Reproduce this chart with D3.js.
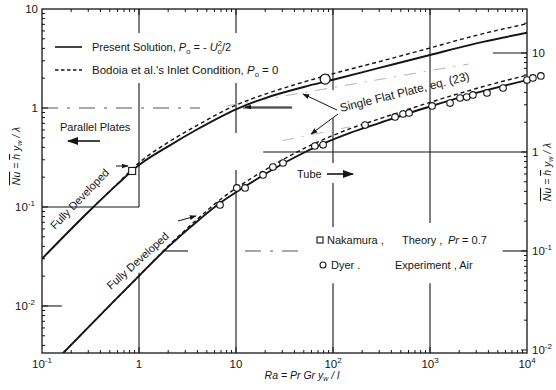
<!DOCTYPE html>
<html><head><meta charset="utf-8">
<script src="https://cdn.jsdelivr.net/npm/d3@7"></script>
<style>
body{margin:0;background:#fff;}
svg text{font-family:"Liberation Sans","DejaVu Sans",sans-serif;fill:#161616;}
</style></head><body>
<svg id="c" width="556" height="390"></svg>
<script>
// Parallel plates (left axis): present solution and Bodoia et al.'s inlet condition
const platesRa      = [0.1, 0.3, 0.6, 1, 2, 4, 10, 20, 50, 100, 300, 1000, 3000, 10000];
const platesPresent = [0.030, 0.089, 0.17, 0.265, 0.41, 0.61, 0.97, 1.26, 1.63, 1.93, 2.54, 3.43, 4.5, 5.75];
const platesBodoia  = [0.030, 0.089, 0.172, 0.28, 0.45, 0.67, 1.07, 1.38, 1.83, 2.22, 2.94, 4.04, 5.42, 7.09];

// Tube (right axis)
const tubeRa      = [0.15, 0.5, 1, 2, 4, 7, 12, 20, 40, 80, 150, 300, 1000, 3000, 10000];
const tubePresent = [0.00846, 0.0282, 0.056, 0.11, 0.2, 0.31, 0.44, 0.6, 0.88, 1.22, 1.56, 1.96, 2.88, 3.95, 5.33];
const tubeBodoia  = [0.00846, 0.0282, 0.056, 0.112, 0.21, 0.335, 0.484, 0.66, 0.968, 1.34, 1.72, 2.16, 3.17, 4.38, 5.97];

// Single flat plate, eq. (23)
const platesFlatRa = [8, 2500];
const platesFlat   = [1.05, 2.78];
const tubeFlatRa   = [30, 150];
const tubeFlat     = [1.3, 1.8];

// Nakamura, theory, Pr = 0.7 (parallel plates)
const nakamuraRa = [0.85];
const nakamuraNu = [0.231];

// Dyer, experiment, air
const dyerPlatesRa = [83];
const dyerPlatesNu = [1.96];
const dyerTubeRa = [6.84, 10.2, 12.4, 19, 24, 30.5, 65, 79, 214, 436, 527, 608, 1050, 1610, 2040, 2390, 2770, 3870, 5660, 10000, 11500, 13900];
const dyerTubeNu = [0.292, 0.433, 0.433, 0.586, 0.705, 0.774, 1.15, 1.18, 1.87, 2.26, 2.42, 2.48, 2.92, 3.12, 3.51, 3.59, 3.77, 3.95, 4.43, 5.33, 5.6, 5.86];

// Axis ticks
const xTicks = [0.1, 1, 10, 100, 1000, 10000];
const xTickLabels = [["10","-1"], ["1",""], ["10",""], ["10","2"], ["10","3"], ["10","4"]];
const yLeftTicks = [10, 1, 0.1, 0.01];
const yLeftLabels = [["10",""], ["1",""], ["10","-1"], ["10","-2"]];
const yRightTicks = [10, 1, 0.1, 0.01];
const yRightLabels = [["10",""], ["1",""], ["10","-1"], ["10","-2"]];

const L = 42, R = 527, T = 9, B = 353;
const svg = d3.select("#c");
const ink = "#151515";

const x = d3.scaleLog().domain([0.1, 1e4]).range([L, R]);
const yL = d3.scaleLog().domain([Math.pow(10, -2.475), 10]).range([B, T]);
const shift = Math.pow(10, 44 / 99);
const yR = d3.scaleLog().domain([Math.pow(10, -2.475) * shift, 10 * shift]).range([B, T]);

const zip = (a, b) => a.map((v, i) => ({ra: v, nu: b[i]}));

// clip for curves
svg.append("defs").append("clipPath").attr("id", "plot")
  .append("rect").attr("x", L).attr("y", T).attr("width", R - L).attr("height", B - T);

const defs = svg.select("defs");
defs.append("marker").attr("id", "ah").attr("viewBox", "0 0 10 10")
  .attr("refX", 9).attr("refY", 5).attr("markerWidth", 7).attr("markerHeight", 7)
  .attr("orient", "auto-start-reverse")
  .append("path").attr("d", "M0,1.5 L10,5 L0,8.5 z").attr("fill", ink);

// partial grid lines (vertical spans given in left-axis units)
const vGrid = [
  {ra: 1,    spans: [[5.72, 10], [0.1, 1.79], [0.00335, 0.0216]]},
  {ra: 10,   spans: [[5.72, 10], [0.559, 1.79], [0.00335, 0.236]]},
  {ra: 100,  spans: [[1.52, 10], [0.278, 0.79], [0.0628, 0.175], [0.00335, 0.017]]},
  {ra: 1000, spans: [[0.0688, 10], [0.00335, 0.017]]}
];
const g = svg.append("g").attr("stroke", ink).attr("stroke-width", 1.1);
vGrid.forEach(v => v.spans.forEach(s => {
  g.append("line").attr("x1", x(v.ra)).attr("x2", x(v.ra))
    .attr("y1", yL(s[0])).attr("y2", yL(s[1]));
}));
// horizontal spans: [axis, value, raFrom, raTo, dashed]
const hGrid = [
  ["L", 1, 0.1, 4.25, true],
  ["L", 1, 11.8, 37.9, false],
  ["R", 1, 19, 1e4, false],
  ["L", 0.1, 0.1, 1, false],
  ["R", 0.1, 1.77, 3.2, false],
  ["R", 0.1, 12.4, 48, true],
  ["R", 0.1, 5600, 1e4, false],
  ["L", 0.01, 0.1, 0.16, false],
  ["R", 10, 4450, 1e4, false]
];
hGrid.forEach(h => {
  const yy = (h[0] === "L" ? yL : yR)(h[1]);
  g.append("line").attr("x1", x(h[2])).attr("x2", x(h[3]))
    .attr("y1", yy).attr("y2", yy)
    .attr("stroke-dasharray", h[4] ? "16,9,3,9" : null)
    .attr("stroke", h[4] ? "#555" : ink);
});

// frame
svg.append("rect").attr("x", L).attr("y", T).attr("width", R - L).attr("height", B - T)
  .attr("fill", "none").attr("stroke", ink).attr("stroke-width", 1.3);

// minor / major ticks
function minors(dom) {
  const out = [];
  const lo = Math.floor(Math.log10(dom[0])), hi = Math.ceil(Math.log10(dom[1]));
  for (let e = lo; e <= hi; e++) for (let m = 1; m < 10; m++) {
    const v = m * Math.pow(10, e);
    if (v >= dom[0] * 1.0001 && v <= dom[1] * 0.9999) out.push({v, major: m === 1});
  }
  return out;
}
const tk = svg.append("g").attr("stroke", ink).attr("stroke-width", 1);
minors(x.domain()).forEach(t => {
  const len = t.major ? 6 : 3;
  tk.append("line").attr("x1", x(t.v)).attr("x2", x(t.v)).attr("y1", B).attr("y2", B - len);
  tk.append("line").attr("x1", x(t.v)).attr("x2", x(t.v)).attr("y1", T).attr("y2", T + len);
});
minors(yL.domain()).forEach(t => {
  const len = t.major ? 6 : 3;
  tk.append("line").attr("x1", L).attr("x2", L + len).attr("y1", yL(t.v)).attr("y2", yL(t.v));
});
minors(yR.domain()).forEach(t => {
  const len = t.major ? 6 : 3;
  tk.append("line").attr("x1", R).attr("x2", R - len).attr("y1", yR(t.v)).attr("y2", yR(t.v));
});

// tick labels
function powLabel(sel, base, exp) {
  sel.append("tspan").text(base);
  if (exp) sel.append("tspan").attr("dy", -5).attr("font-size", 8).text(exp);
}
xTicks.forEach((v, i) => {
  const t = svg.append("text").attr("x", x(v)).attr("y", 368)
    .attr("text-anchor", "middle").attr("font-size", 11.5);
  powLabel(t, xTickLabels[i][0], xTickLabels[i][1]);
});
yLeftTicks.forEach((v, i) => {
  const lab = yLeftLabels[i];
  const t = svg.append("text").attr("x", lab[1] ? 35 : 38).attr("y", yL(v) + 4)
    .attr("text-anchor", "end").attr("font-size", 11.5);
  t.append("tspan").text(lab[0]);
  if (lab[1]) t.append("tspan").attr("dy", -5).attr("font-size", 8).text(lab[1]);
});
yRightTicks.forEach((v, i) => {
  const lab = yRightLabels[i];
  const t = svg.append("text").attr("x", 532).attr("y", yR(v) + 4)
    .attr("text-anchor", "start").attr("font-size", 11.5);
  powLabel(t, lab[0], lab[1]);
});

// axis titles
function nuTitle(tx, ty) {
  const t = svg.append("text").attr("transform", `translate(${tx},${ty}) rotate(-90)`)
    .attr("text-anchor", "middle").attr("font-size", 10.5).attr("font-style", "italic");
  t.append("tspan").attr("text-decoration", "overline").text("Nu");
  t.append("tspan").text(" = ");
  t.append("tspan").attr("text-decoration", "overline").text("h");
  t.append("tspan").text(" y");
  t.append("tspan").attr("dy", 2).attr("font-size", 7).text("w");
  t.append("tspan").attr("dy", -2).text(" / λ");
}
nuTitle(20, 156);
nuTitle(551, 172);

const xt = svg.append("text").attr("x", 302).attr("y", 379).attr("text-anchor", "middle")
  .attr("font-size", 10.5).attr("font-style", "italic");
xt.append("tspan").text("Ra = Pr Gr y");
xt.append("tspan").attr("dy", 2).attr("font-size", 7).text("w");
xt.append("tspan").attr("dy", -2).text(" / l");

// curves
const lineL = d3.line().x(d => x(d.ra)).y(d => yL(d.nu)).curve(d3.curveMonotoneX);
const lineR = d3.line().x(d => x(d.ra)).y(d => yR(d.nu)).curve(d3.curveMonotoneX);
const curves = svg.append("g").attr("clip-path", "url(#plot)").attr("fill", "none");

curves.append("path").attr("d", lineL(zip(platesFlatRa, platesFlat)))
  .attr("stroke", "#aaa").attr("stroke-width", 0.9).attr("stroke-dasharray", "12,8,2,8");
curves.append("path").attr("d", lineR(zip(tubeFlatRa, tubeFlat)))
  .attr("stroke", "#b0b0b0").attr("stroke-width", 0.9).attr("stroke-dasharray", "12,8,2,8");

curves.append("path").attr("d", lineL(zip(platesRa, platesBodoia)))
  .attr("stroke", ink).attr("stroke-width", 1.4).attr("stroke-dasharray", "4,3");
curves.append("path").attr("d", lineR(zip(tubeRa, tubeBodoia)))
  .attr("stroke", ink).attr("stroke-width", 1.4).attr("stroke-dasharray", "4,3");
curves.append("path").attr("d", lineL(zip(platesRa, platesPresent)))
  .attr("stroke", ink).attr("stroke-width", 1.9);
curves.append("path").attr("d", lineR(zip(tubeRa, tubePresent)))
  .attr("stroke", ink).attr("stroke-width", 1.9);

// data symbols
svg.append("g").selectAll("circle").data(zip(dyerTubeRa, dyerTubeNu)).join("circle")
  .attr("cx", d => x(d.ra)).attr("cy", d => yR(d.nu)).attr("r", 3.3)
  .attr("fill", "#fff").attr("stroke", ink).attr("stroke-width", 1.1);
svg.append("g").selectAll("circle").data(zip(dyerPlatesRa, dyerPlatesNu)).join("circle")
  .attr("cx", d => x(d.ra)).attr("cy", d => yL(d.nu)).attr("r", 5)
  .attr("fill", "#fff").attr("stroke", ink).attr("stroke-width", 1.3);
svg.append("g").selectAll("rect").data(zip(nakamuraRa, nakamuraNu)).join("rect")
  .attr("x", d => x(d.ra) - 3.5).attr("y", d => yL(d.nu) - 3.5).attr("width", 7).attr("height", 7)
  .attr("fill", "#fff").attr("stroke", ink).attr("stroke-width", 1.1);

// legend (top)
const lg = svg.append("g");
lg.append("line").attr("x1", 55).attr("x2", 82).attr("y1", 47).attr("y2", 47)
  .attr("stroke", ink).attr("stroke-width", 1.6);
lg.append("line").attr("x1", 55).attr("x2", 82).attr("y1", 70).attr("y2", 70)
  .attr("stroke", ink).attr("stroke-width", 1.3).attr("stroke-dasharray", "3.5,2.5");
const t1 = lg.append("text").attr("x", 92).attr("y", 51).attr("font-size", 11);
t1.append("tspan").text("Present Solution, ");
t1.append("tspan").attr("font-style", "italic").text("P");
t1.append("tspan").attr("dy", 3).attr("font-size", 7.5).text("o");
t1.append("tspan").attr("dy", -3).text(" = - ");
t1.append("tspan").attr("font-style", "italic").text("U");
t1.append("tspan").attr("dy", 3).attr("font-size", 7.5).text("o");
t1.append("tspan").attr("dy", -8).attr("dx", -4).attr("font-size", 7.5).text("2");
t1.append("tspan").attr("dy", 5).text("/2");
const t2 = lg.append("text").attr("x", 92).attr("y", 74).attr("font-size", 11.5);
t2.append("tspan").text("Bodoia et al.'s Inlet Condition, ");
t2.append("tspan").attr("font-style", "italic").text("P");
t2.append("tspan").attr("dy", 3).attr("font-size", 7.5).text("o");
t2.append("tspan").attr("dy", -3).text(" = 0");

// legend (symbols)
lg.append("rect").attr("x", 317).attr("y", 237).attr("width", 6).attr("height", 6)
  .attr("fill", "#fff").attr("stroke", ink).attr("stroke-width", 1.1);
lg.append("text").attr("x", 327).attr("y", 244).attr("font-size", 11).text("Nakamura ,");
lg.append("text").attr("x", 402).attr("y", 244).attr("font-size", 11).text("Theory ,");
const t3 = lg.append("text").attr("x", 448).attr("y", 244).attr("font-size", 11);
t3.append("tspan").attr("font-style", "italic").text("Pr");
t3.append("tspan").text(" = 0.7");
lg.append("circle").attr("cx", 323).attr("cy", 265).attr("r", 3)
  .attr("fill", "#fff").attr("stroke", ink).attr("stroke-width", 1.1);
lg.append("text").attr("x", 331).attr("y", 269).attr("font-size", 11).text("Dyer .");
lg.append("text").attr("x", 395).attr("y", 269).attr("font-size", 11).text("Experiment , Air");

// annotations
const an = svg.append("g");
an.append("text").attr("x", 60).attr("y", 131).attr("font-size", 11).text("Parallel Plates");
an.append("line").attr("x1", 100).attr("x2", 68).attr("y1", 141).attr("y2", 141)
  .attr("stroke", ink).attr("stroke-width", 1.6).attr("marker-end", "url(#ah)");
an.append("text").attr("x", 297).attr("y", 178).attr("font-size", 11).text("Tube");
an.append("line").attr("x1", 327).attr("x2", 353).attr("y1", 174).attr("y2", 174)
  .attr("stroke", ink).attr("stroke-width", 1.6).attr("marker-end", "url(#ah)");
an.append("text").attr("transform", "translate(341,112) rotate(-14)")
  .attr("font-size", 11.8).text("Single Flat Plate, eq. (23)");
[[337, 110, 303, 94], [338, 114, 311, 134], [292, 107, 245, 107]].forEach(a => {
  an.append("line").attr("x1", a[0]).attr("y1", a[1]).attr("x2", a[2]).attr("y2", a[3])
    .attr("stroke", ink).attr("stroke-width", 1).attr("marker-end", "url(#ah)");
});
an.append("text").attr("transform", "translate(55,230) rotate(-46)")
  .attr("font-size", 11).text("Fully Developed");
an.append("line").attr("x1", 116).attr("y1", 166).attr("x2", 128).attr("y2", 166)
  .attr("stroke", ink).attr("stroke-width", 1).attr("marker-end", "url(#ah)");
an.append("text").attr("transform", "translate(111,290) rotate(-42)")
  .attr("font-size", 11).text("Fully Developed");
an.append("line").attr("x1", 178).attr("y1", 221).attr("x2", 196).attr("y2", 216)
  .attr("stroke", ink).attr("stroke-width", 1).attr("marker-end", "url(#ah)");
</script>
</body></html>
